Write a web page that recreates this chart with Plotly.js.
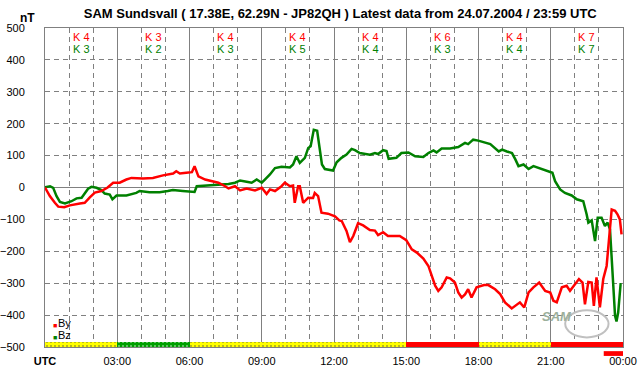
<!DOCTYPE html>
<html><head><meta charset="utf-8">
<script src="https://cdn.plot.ly/plotly-3.0.1.min.js"></script>
<style>html,body{margin:0;padding:0;background:#fff}#c{width:642px;height:376px}</style>
</head><body><div id="c"></div>
<script>
// By (red) – hours UTC and nT
const byHours = [0,0.2,0.41,0.55,0.8,1.03,1.45,1.65,1.86,2.07,2.34,2.6,2.83,3.1,3.38,3.59,4.07,4.48,4.9,5.32,5.45,5.6,5.86,6.1,6.21,6.37,6.65,6.99,7.2,7.48,7.62,7.89,8.1,8.37,8.72,9.0,9.2,9.34,9.55,9.82,9.96,10.17,10.3,10.37,10.51,10.58,10.72,10.93,11.13,11.2,11.34,11.48,11.75,12.04,12.22,12.32,12.52,12.66,12.8,13.0,13.21,13.49,13.7,13.83,14.04,14.24,14.73,15.0,15.23,15.44,15.71,15.92,16.06,16.2,16.33,16.47,16.68,16.82,17.02,17.16,17.3,17.44,17.57,17.71,17.92,18.23,18.41,18.69,18.9,19.1,19.38,19.72,19.9,20.08,20.28,20.52,20.77,20.98,21.11,21.25,21.46,21.66,21.8,22.01,22.17,22.32,22.42,22.56,22.7,22.79,22.9,23.04,23.18,23.32,23.39,23.46,23.53,23.67,23.77,23.87,23.94];
const byValues = [0,-27,-48,-60,-62,-56,-50,-48,-31,-16,-11,0,15,15,25,30,28,30,38,44,51,44,46,48,67,35,25,20,15,4,-3,4,-9,-3,-9,-1,-20,-6,-11,4,15,4,6,-48,4,4,-48,-32,-33,-17,-27,-79,-82,-90,-103,-105,-136,-171,-152,-112,-119,-133,-135,-149,-140,-152,-152,-165,-194,-204,-223,-246,-277,-308,-324,-313,-282,-285,-298,-329,-345,-335,-319,-345,-313,-306,-306,-319,-334,-360,-379,-360,-376,-329,-313,-298,-324,-329,-355,-360,-313,-308,-324,-303,-287,-298,-366,-296,-298,-371,-282,-376,-287,-246,-183,-110,-69,-73,-84,-100,-147];
// Bz (green)
const bzHours = [0,0.21,0.34,0.48,0.62,0.83,1.1,1.31,1.52,1.65,1.79,1.93,2.14,2.34,2.48,2.69,2.8,2.97,3.38,3.79,3.93,4.34,4.76,5.1,5.31,5.72,6.21,6.3,6.65,7.2,7.62,7.89,8.1,8.37,8.58,8.79,9.0,9.13,9.34,9.55,9.82,10.17,10.3,10.44,10.58,10.79,10.93,11.03,11.16,11.3,11.41,11.5,11.62,11.96,12.11,12.31,12.52,12.73,12.87,13.07,13.49,13.7,13.83,14.04,14.18,14.27,14.59,14.8,15.09,15.37,15.71,15.92,16.13,16.26,16.47,16.82,17.16,17.3,17.44,17.57,17.78,17.99,18.28,18.49,18.84,18.98,19.18,19.39,19.53,19.66,19.87,20.08,20.28,20.63,20.9,21.07,21.18,21.39,21.59,21.87,22.08,22.35,22.49,22.56,22.7,22.84,22.95,23.11,23.25,23.36,23.46,23.53,23.6,23.67,23.73,23.8,23.9,23.94];
const bzValues = [1,4,-1,-27,-45,-50,-43,-34,-32,-17,-4,2,-1,-8,-19,-22,-37,-25,-25,-17,-11,-15,-15,-11,-8,-11,-14,4,6,7,11,15,22,18,15,25,15,25,41,61,65,63,72,98,77,93,124,129,181,178,124,72,58,53,79,93,103,121,117,108,103,108,105,117,114,90,93,108,110,98,96,108,116,110,122,122,127,134,140,136,150,147,142,136,113,119,113,108,88,67,72,58,67,58,51,46,20,-6,-17,-25,-37,-43,-84,-110,-103,-168,-95,-95,-121,-110,-131,-225,-329,-402,-420,-392,-303,-303];
// 3-hour K indices
const kBy = [4,3,4,4,4,6,4,7];
const kBz = [3,2,3,5,4,3,4,7];
// status strip per 3-hour interval
const statusLevel = ['quiet','active','quiet','quiet','quiet','storm','quiet','storm'];
const tickLabels = ['<b>UTC</b>','03:00','06:00','09:00','12:00','15:00','18:00','21:00','00:00'];
const tickHours = [0,3,6,9,12,15,18,21,24];
const intervalCenters = [1.5,4.5,7.5,10.5,13.5,16.5,19.5,22.5];

const FONT = 'Liberation Sans, Arial, sans-serif';
const RED = '#ff0000', GREEN = '#008000', GRID = '#808080';

const bgMap = {quiet:'#ffff00', active:'#00a000', storm:'#ff0000'};
const fgMap = {quiet:'#ff3030', active:'#004000', storm:'#ff0000'};
const shapeMap = {quiet:'.', active:'.', storm:''};

const traces = [
  {type:'bar', x:intervalCenters, y:statusLevel.map(()=>15), base:-500, width:3,
   marker:{color:statusLevel.map(s=>bgMap[s]), line:{width:0},
     pattern:{fillmode:'overlay', shape:statusLevel.map(s=>shapeMap[s]), fgcolor:statusLevel.map(s=>fgMap[s]),
              size:4, solidity:0.2}},
   showlegend:false, hoverinfo:'skip'},
  {type:'scatter', mode:'lines', x:bzHours, y:bzValues, name:'Bz', line:{color:GREEN, width:2.5}, showlegend:false},
  {type:'scatter', mode:'lines', x:byHours, y:byValues, name:'By', line:{color:RED, width:2.5}, showlegend:false}
];

const annotations = [];
intervalCenters.forEach((c,i)=>{
  annotations.push({x:c, y:472, xref:'x', yref:'y', text:'K '+kBy[i], showarrow:false, font:{family:FONT,size:11,color:RED}});
  annotations.push({x:c, y:434, xref:'x', yref:'y', text:'K '+kBz[i], showarrow:false, font:{family:FONT,size:11,color:GREEN}});
});
annotations.push({xref:'paper', yref:'paper', x:-0.047, y:1.058, text:'<b>nT</b>', showarrow:false, font:{family:FONT,size:12,color:'#000'}});
annotations.push({xref:'paper', yref:'paper', x:0.0105, y:0.05, text:'■', showarrow:false, font:{family:FONT,size:7,color:RED}});
annotations.push({xref:'paper', yref:'paper', x:0.0105, y:0.012, text:'■', showarrow:false, font:{family:FONT,size:7,color:GREEN}});
annotations.push({xref:'paper', yref:'paper', x:0.019, y:0.05, xanchor:'left', text:'By', showarrow:false, font:{family:FONT,size:11,color:'#000'}});
annotations.push({xref:'paper', yref:'paper', x:0.019, y:0.012, xanchor:'left', text:'Bz', showarrow:false, font:{family:FONT,size:11,color:'#000'}});
annotations.push({xref:'paper', yref:'paper', x:0.915, y:0.065, text:'<i><b>SAM</b></i>', showarrow:false, font:{family:FONT,size:13,color:'#9cb09c'}});

const layout = {
  width:642, height:376,
  margin:{l:45, r:19, t:28, b:29},
  paper_bgcolor:'#fff', plot_bgcolor:'#fff',
  title:{text:'<b>SAM Sundsvall ( 17.38E, 62.29N - JP82QH ) Latest data from 24.07.2004 / 23:59 UTC</b>',
         font:{family:FONT,size:13,color:'#000'}, xref:'container', x:0.53, xanchor:'center', yref:'container', y:0.965, yanchor:'middle'},
  xaxis:{range:[0,24], tickvals:tickHours, ticktext:tickLabels, showgrid:true, gridcolor:GRID, gridwidth:1,
         minor:{dtick:1, showgrid:true, gridcolor:GRID, griddash:'5px,4px', gridwidth:1},
         showline:true, linecolor:GRID, linewidth:1, mirror:true, ticks:'', zeroline:false,
         tickfont:{family:FONT,size:11,color:'#000'}, ticklabelstandoff:4, fixedrange:true},
  yaxis:{range:[-500,500], dtick:100, showgrid:true, gridcolor:GRID, griddash:'5px,4px', gridwidth:1,
         zeroline:true, zerolinecolor:GRID, zerolinewidth:1,
         showline:true, linecolor:GRID, linewidth:1, mirror:true, ticks:'',
         tickfont:{family:FONT,size:11,color:'#000'}, ticklabelstandoff:17, fixedrange:true},
  showlegend:false,
  bargap:0,
  annotations:annotations,
  shapes:[
    {type:'rect', xref:'x', yref:'paper', x0:23.2, x1:24.2, y0:-0.013, y1:-0.028, fillcolor:RED, line:{width:0}},
    {type:'circle', xref:'paper', yref:'paper', x0:0.9, x1:0.975, y0:0.03, y1:0.115, line:{color:'#c0c0c0', width:2}}
  ]
};
Plotly.newPlot('c', traces, layout, {staticPlot:true, displayModeBar:false});
</script></body></html>
